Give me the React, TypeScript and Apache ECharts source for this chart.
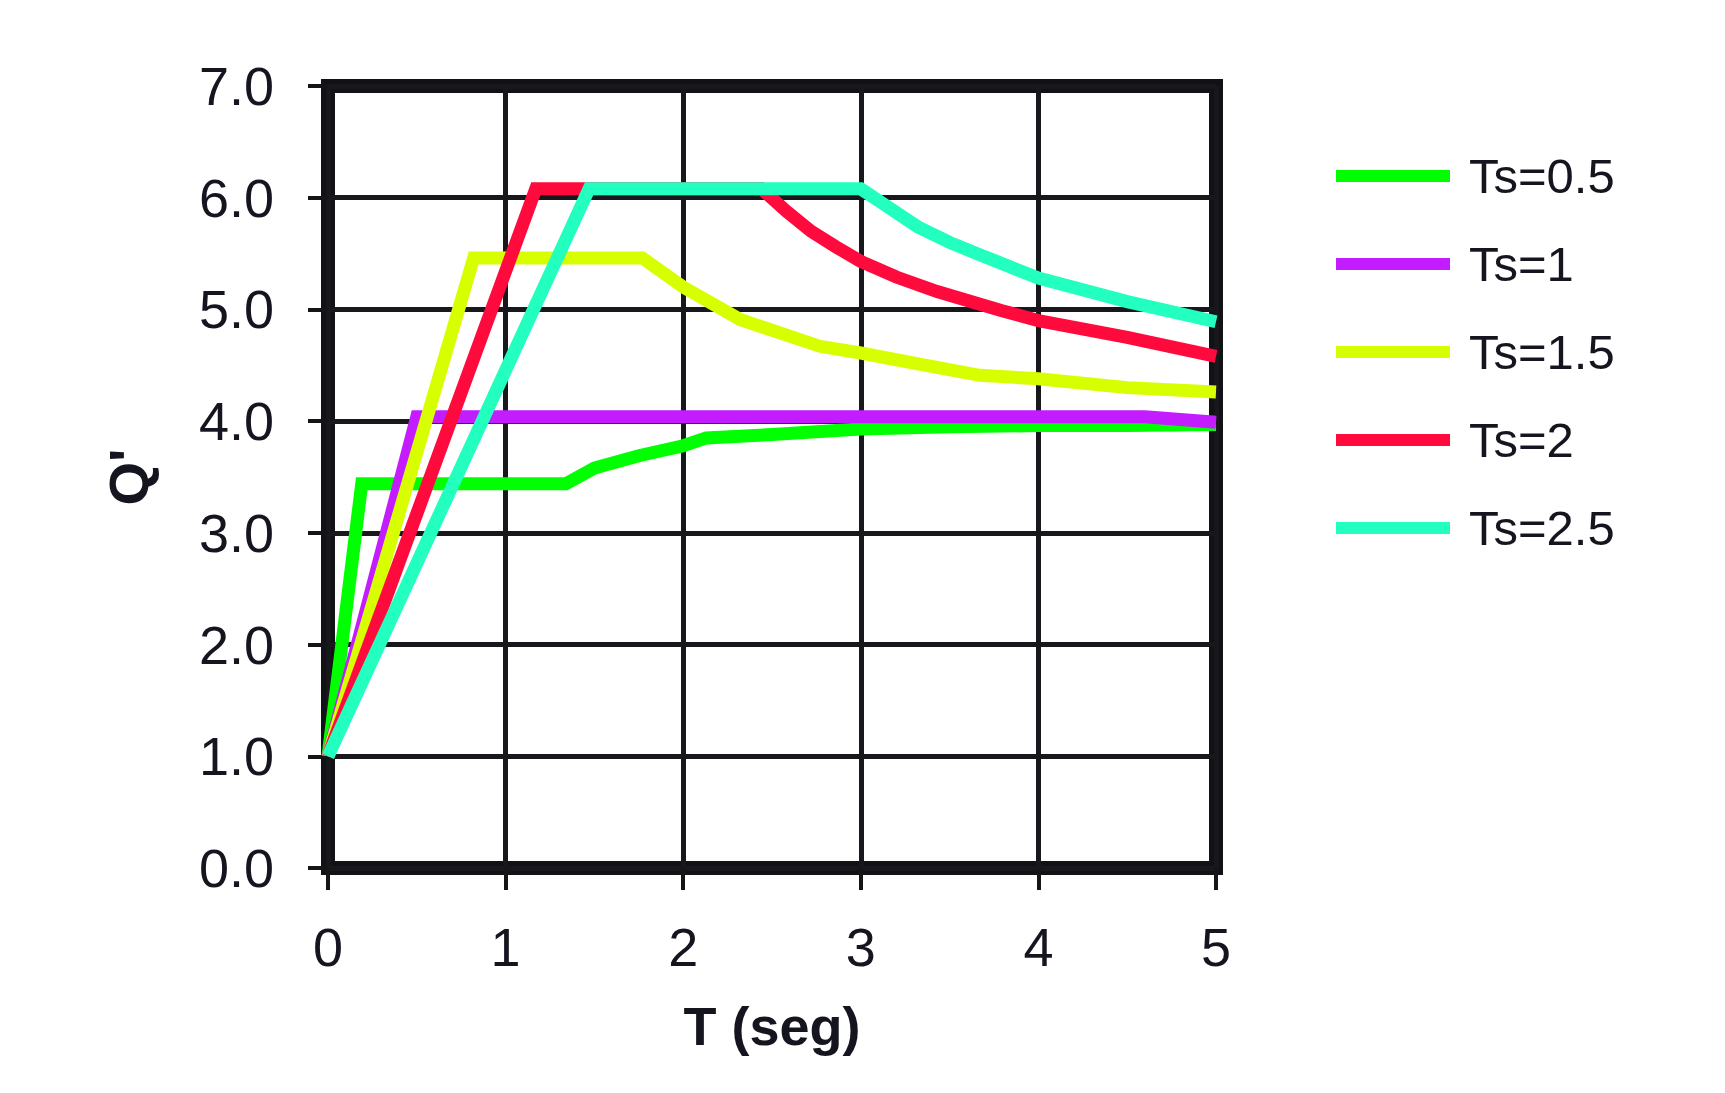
import React, { useEffect, useRef } from "react";
import * as echarts from "echarts";

const seriesNames = ["Ts=0.5", "Ts=1", "Ts=1.5", "Ts=2", "Ts=2.5"];
const seriesColors = ["#00ff00", "#c21cff", "#d8ff00", "#ff0a3c", "#22ffbe"];

const ts05: number[][] = [[0, 1], [0.19, 3.44], [1.34, 3.44], [1.5, 3.58], [1.75, 3.69], [2.0, 3.78], [2.13, 3.85], [2.5, 3.88], [3.0, 3.93], [3.5, 3.95], [4.0, 3.96], [4.5, 3.96], [5.0, 3.97]];
const ts1: number[][] = [[0, 1], [0.5, 4.04], [4.6, 4.04], [5.0, 3.99]];
const ts15: number[][] = [[0, 1], [0.82, 5.46], [1.77, 5.46], [2.0, 5.2], [2.32, 4.91], [2.77, 4.67], [3.0, 4.61], [3.3, 4.52], [3.67, 4.41], [4.0, 4.38], [4.5, 4.3], [5.0, 4.26]];
const ts2: number[][] = [[0, 1], [1.17, 6.08], [2.44, 6.08], [2.58, 5.88], [2.72, 5.7], [2.86, 5.56], [3.0, 5.43], [3.2, 5.29], [3.43, 5.16], [3.79, 4.99], [4.0, 4.9], [4.5, 4.75], [5.0, 4.58]];
const ts25: number[][] = [[0, 1], [1.47, 6.08], [3.0, 6.08], [3.15, 5.92], [3.32, 5.74], [3.5, 5.6], [3.67, 5.49], [4.0, 5.28], [4.5, 5.07], [5.0, 4.89]];
const seriesData = [ts05, ts1, ts15, ts2, ts25];

const xTicks = { min: 0, max: 5, interval: 1 };
const yTicks = { min: 0, max: 7, interval: 1 };

const FONT = "'Liberation Sans', Arial, sans-serif";

export default function App() {
  const ref = useRef<HTMLDivElement>(null);
  useEffect(() => {
    if (!ref.current) return;
    const chart = echarts.init(ref.current, undefined, { renderer: "svg" });
    chart.setOption({
      animation: false,
      backgroundColor: "#ffffff",
      textStyle: { fontFamily: FONT },
      grid: {
        left: 328,
        top: 86,
        width: 888,
        height: 782,
        show: true,
        borderWidth: 14,
        borderColor: "#111116",
        containLabel: false,
      },
      legend: {
        orient: "vertical",
        left: 1331,
        top: 146,
        itemWidth: 114,
        itemHeight: 12,
        itemGap: 38,
        icon: "rect",
        data: seriesNames,
        textStyle: { fontSize: 49, color: "#151520", fontFamily: FONT, lineHeight: 50, padding: [0, 0, 0, 14] },
      },
      xAxis: {
        type: "value",
        min: xTicks.min,
        max: xTicks.max,
        interval: xTicks.interval,
        name: "T (seg)",
        nameLocation: "middle",
        nameGap: 131,
        nameTextStyle: { fontSize: 54, fontWeight: "bold", color: "#151520", fontFamily: FONT },
        axisLine: { show: false },
        axisTick: { show: true, length: 22, lineStyle: { color: "#151518", width: 4 } },
        axisLabel: { fontSize: 54, color: "#151520", margin: 52, fontFamily: FONT },
        splitLine: { show: true, lineStyle: { color: "#18181c", width: 5, type: "solid" } },
      },
      yAxis: {
        type: "value",
        min: yTicks.min,
        max: yTicks.max,
        interval: yTicks.interval,
        name: "Q'",
        nameLocation: "middle",
        nameRotate: 90,
        nameGap: 172,
        nameTextStyle: { fontSize: 56, fontWeight: "bold", color: "#151520", fontFamily: FONT },
        axisLine: { show: false },
        axisTick: { show: true, length: 20, lineStyle: { color: "#151518", width: 4 } },
        axisLabel: {
          fontSize: 54,
          color: "#151520",
          margin: 54,
          fontFamily: FONT,
          formatter: (v: number) => v.toFixed(1),
        },
        splitLine: { show: true, lineStyle: { color: "#18181c", width: 5, type: "solid" } },
      },
      series: seriesNames.map((name, i) => ({
        name,
        type: "line",
        data: seriesData[i],
        showSymbol: false,
        symbol: "none",
        color: seriesColors[i],
        lineStyle: { width: 13, color: seriesColors[i], join: "miter" },
        z: 2 + i,
      })),
    });
    return () => chart.dispose();
  }, []);
  return (
    <div
      ref={ref}
      style={{ position: "absolute", left: 0, top: 0, width: 1725, height: 1093, background: "#fff" }}
    />
  );
}
